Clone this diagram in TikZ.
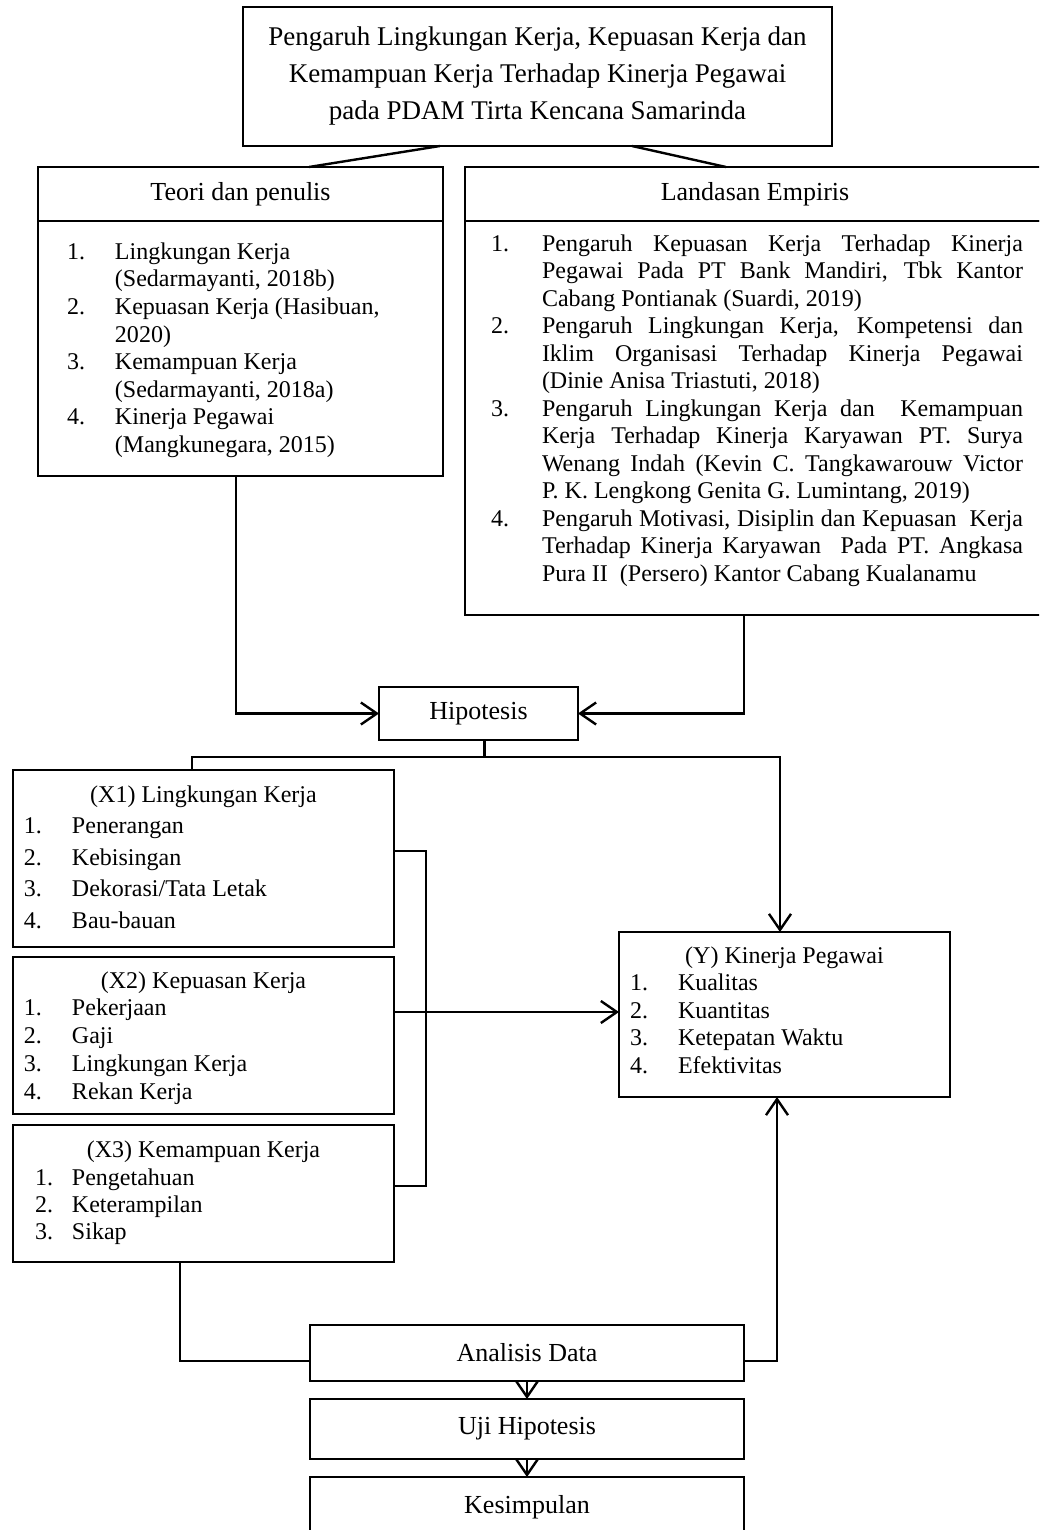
\documentclass[tikz,border=0pt]{standalone}
\usepackage{fontspec}
\setmainfont{Liberation Serif}
\usetikzlibrary{arrows.meta}
\newcommand{\rata}[1]{\makebox[240.5pt][s]{#1}}
\begin{document}
\begin{tikzpicture}[x=0.5pt, y=-0.5pt,
        kotak/.style={draw, line width=1pt, inner sep=0pt, outer sep=0pt},
        kepala/.style={kotak, font=\fontsize{13}{15}\selectfont},
        garis/.style={line width=1.2pt},
        panah/.style={garis, -{Straight Barb[length=8pt,width=11pt]}}]
\useasboundingbox (0,0) rectangle (1039,1530);
\clip (0,0) rectangle (1039,1530);

% judul
\node[kotak, minimum width=294.5pt, minimum height=69.5pt, align=center,
    font=\fontsize{13.5}{18.5}\selectfont] (judul) at (537.5,76.5)
    {Pengaruh Lingkungan Kerja, Kepuasan Kerja dan\\
     Kemampuan Kerja Terhadap Kinerja Pegawai\\
     pada PDAM Tirta Kencana Samarinda};

% teori dan landasan empiris
\node[kepala, minimum width=202.5pt, minimum height=27pt] (teorihead) at (240.5,194) {Teori dan penulis};
\node[kotak, anchor=north west] (teori) at (38,221)
    {\parbox[t][127.5pt][t]{202.5pt}{\fontsize{12}{13.8}\selectfont\vspace*{9.5pt}%
    \hspace*{14.5pt}\begin{tabular}[t]{@{}p{24pt}@{}l@{}}
    1. & Lingkungan Kerja\\
       & (Sedarmayanti, 2018b)\\
    2. & Kepuasan Kerja (Hasibuan,\\
       & 2020)\\
    3. & Kemampuan Kerja\\
       & (Sedarmayanti, 2018a)\\
    4. & Kinerja Pegawai\\
       & (Mangkunegara, 2015)
    \end{tabular}}};

\node[kepala, minimum width=290pt, minimum height=27pt] (empirishead) at (755,194) {Landasan Empiris};
\node[kotak, anchor=north west] (empiris) at (465,221)
    {\parbox[t][197pt][t]{290pt}{\fontsize{12}{13.75}\selectfont\vspace*{5.5pt}%
    \hspace*{13pt}\begin{tabular}[t]{@{}p{25.5pt}@{}l@{}}
    1. & \rata{Pengaruh Kepuasan Kerja Terhadap Kinerja}\\
       & \rata{Pegawai Pada PT Bank Mandiri, Tbk Kantor}\\
       & Cabang Pontianak (Suardi, 2019)\\
    2. & \rata{Pengaruh Lingkungan Kerja, Kompetensi dan}\\
       & \rata{Iklim Organisasi Terhadap Kinerja Pegawai}\\
       & (Dinie Anisa Triastuti, 2018)\\
    3. & \rata{Pengaruh Lingkungan Kerja dan \ Kemampuan}\\
       & \rata{Kerja Terhadap Kinerja Karyawan PT. Surya}\\
       & \rata{Wenang Indah (Kevin C. Tangkawarouw Victor}\\
       & P. K. Lengkong Genita G. Lumintang, 2019)\\
    4. & \rata{Pengaruh Motivasi, Disiplin dan Kepuasan \ Kerja}\\
       & \rata{Terhadap Kinerja Karyawan \ Pada PT. Angkasa}\\
       & Pura II \ (Persero) Kantor Cabang Kualanamu
    \end{tabular}}};

\node[kepala, minimum width=99.5pt, minimum height=26.5pt] (hipotesis) at (478.5,713.5) {Hipotesis};

% variabel X
\node[kotak, anchor=north west] (x1) at (13,770)
    {\parbox[t][88.5pt][t]{190.5pt}{\fontsize{12}{15.75}\selectfont\vspace*{5pt}%
    \centering\strut(X1) Lingkungan Kerja\par\raggedright
    \hspace*{5.5pt}\begin{tabular}[t]{@{}p{24pt}@{}l@{}}
    1. & Penerangan\\
    2. & Kebisingan\\
    3. & Dekorasi/Tata Letak\\
    4. & Bau-bauan
    \end{tabular}}};
\node[kotak, anchor=north west] (x2) at (13,957)
    {\parbox[t][78.5pt][t]{190.5pt}{\fontsize{12}{13.9}\selectfont\vspace*{5.8pt}%
    \centering\strut(X2) Kepuasan Kerja\par\raggedright
    \hspace*{5.5pt}\begin{tabular}[t]{@{}p{24pt}@{}l@{}}
    1. & Pekerjaan\\
    2. & Gaji\\
    3. & Lingkungan Kerja\\
    4. & Rekan Kerja
    \end{tabular}}};
\node[kotak, anchor=north west] (x3) at (13,1125)
    {\parbox[t][68.5pt][t]{190.5pt}{\fontsize{12}{13.65}\selectfont\vspace*{6.9pt}%
    \centering\strut(X3) Kemampuan Kerja\par\raggedright
    \hspace*{11pt}\begin{tabular}[t]{@{}p{18.5pt}@{}l@{}}
    1. & Pengetahuan\\
    2. & Keterampilan\\
    3. & Sikap
    \end{tabular}}};

% variabel Y
\node[kotak, anchor=north west] (y) at (619,932)
    {\parbox[t][82.5pt][t]{165.5pt}{\fontsize{12}{13.75}\selectfont\vspace*{5.9pt}%
    \centering\strut(Y) Kinerja Pegawai\par\raggedright
    \hspace*{5.5pt}\begin{tabular}[t]{@{}p{24pt}@{}l@{}}
    1. & Kualitas\\
    2. & Kuantitas\\
    3. & Ketepatan Waktu\\
    4. & Efektivitas
    \end{tabular}}};

% analisis
\node[kepala, minimum width=217pt, minimum height=28pt] (analisis) at (527,1353) {Analisis Data};
\node[kepala, minimum width=217pt, minimum height=30pt] (uji) at (527,1429) {Uji Hipotesis};
\node[kepala, minimum width=217pt, minimum height=30pt] (kesimpulan) at (527,1507) {Kesimpulan};

% garis penghubung
\draw[garis] ([xshift=98.5pt]judul.south west) -- ([xshift=135.5pt]teorihead.north west);
\draw[garis] ([xshift=194.5pt]judul.south west) -- ([xshift=130.5pt]empirishead.north west);
\draw[panah] ([xshift=-2.25pt]teori.south) |- (hipotesis.west);
\draw[panah] ([xshift=-5.5pt]empiris.south) |- (hipotesis.east);

\coordinate (cabang) at ([xshift=3pt,yshift=-8.5pt]hipotesis.south);
\draw[garis] ([xshift=3pt]hipotesis.south) -- (cabang);
\draw[garis] ([xshift=-5.75pt]x1.north) |- (cabang);
\draw[panah] (cabang) -| ([xshift=-2.25pt]y.north);

\draw[garis] ([yshift=3.75pt]x1.east) -- ++(32,0) |- ([yshift=3.75pt]x3.east);
\draw[panah] ([yshift=11.75pt]x2.east) -- ([yshift=11.75pt]x2.east -| y.west);

\draw[garis] ([xshift=-11.75pt]x3.south) |- ([yshift=-4pt]analisis.west);
\draw[panah] ([yshift=-4pt]analisis.east) -| ([xshift=-3.75pt]y.south);
\draw[panah] (analisis) -- (uji);
\draw[panah] (uji) -- (kesimpulan);
\end{tikzpicture}
\end{document}
